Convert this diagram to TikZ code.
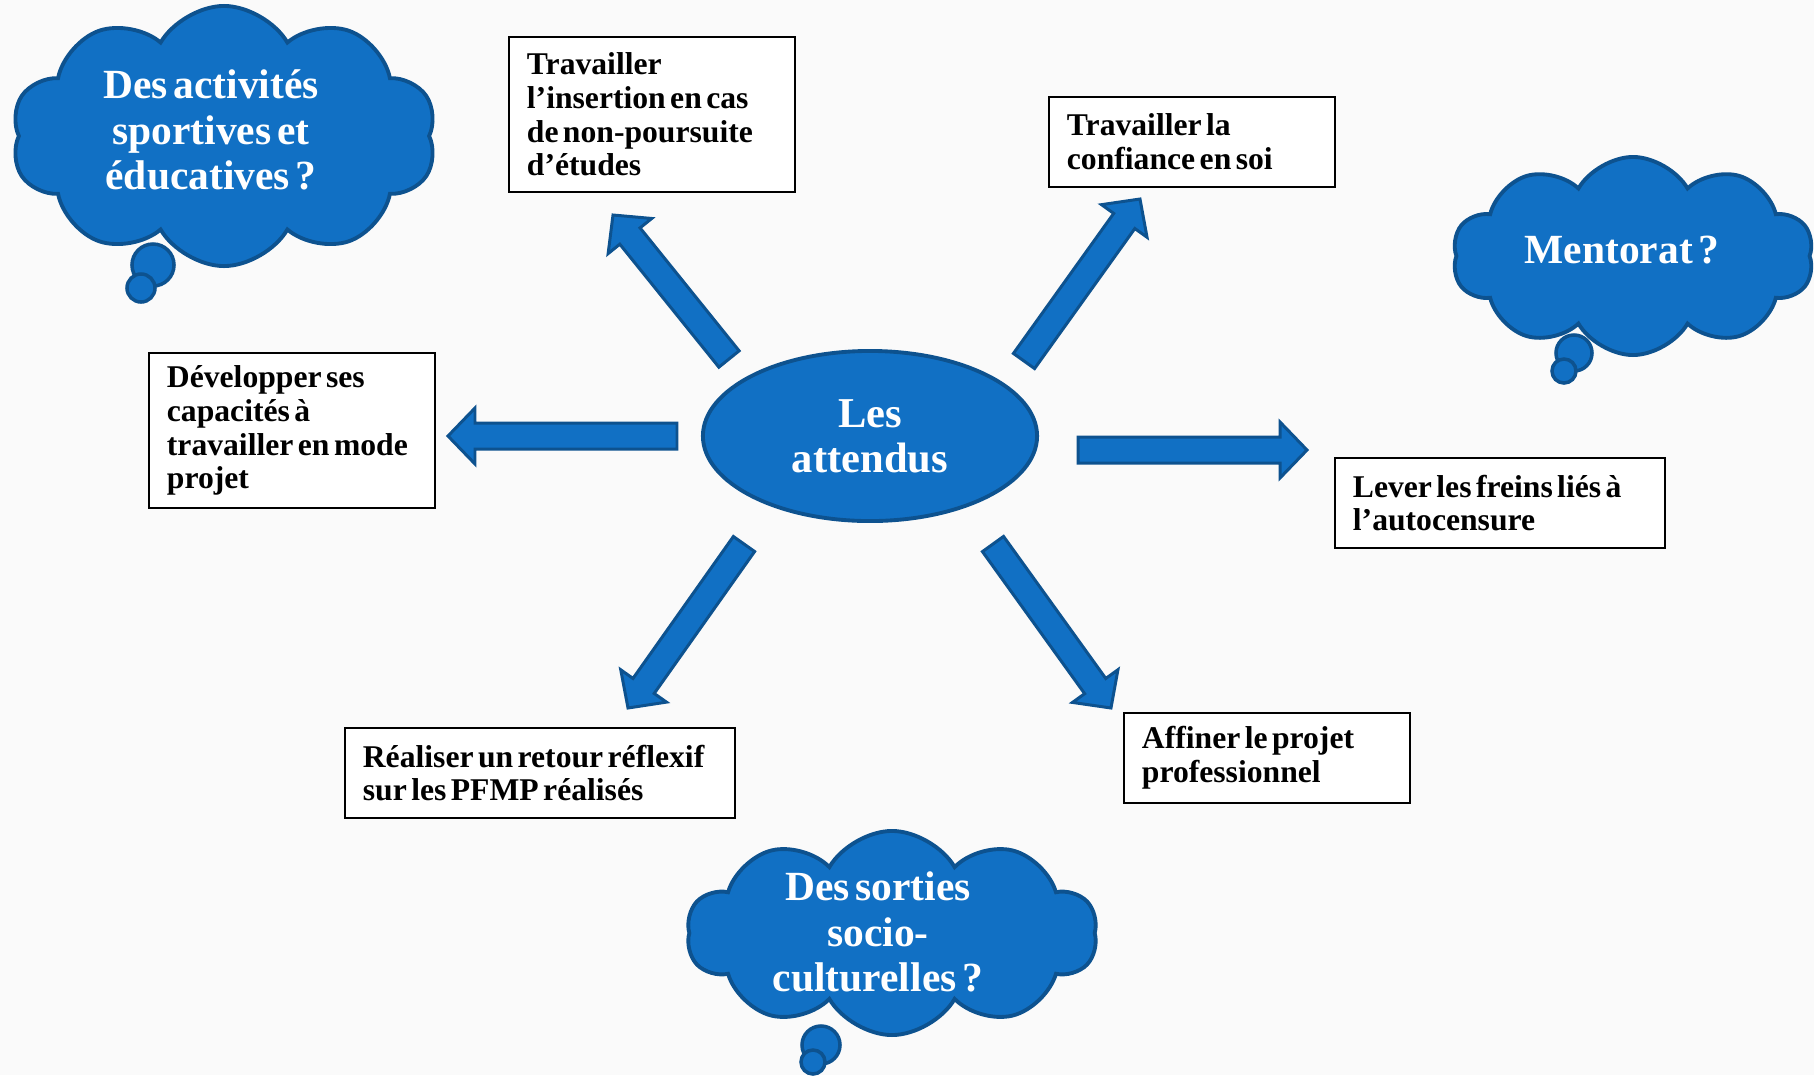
\documentclass[tikz,border=0pt]{standalone}
\usepackage{fontspec}
\setmainfont{Liberation Serif}
\newfontfamily\boxfont{Liberation Serif}
\newfontfamily\cloudfont{Liberation Serif}
\newcommand\boxtextfont{\boxfont\fontsize{9pt}{9.6pt}\selectfont\bfseries}
\newcommand\cloudtextfont{\cloudfont\fontsize{11.8pt}{12.9pt}\selectfont\bfseries}
\newcommand\centretextfont{\cloudfont\fontsize{12.1pt}{12.8pt}\selectfont\bfseries}
\newcommand\narrowspaces{\spaceskip 0.14em plus 0.04em minus 0.02em\relax\xspaceskip\spaceskip}
\usetikzlibrary{shapes.symbols,shapes.geometric}
\definecolor{cfill}{HTML}{1170C4}
\definecolor{cdraw}{HTML}{0D528F}
\definecolor{bgcol}{HTML}{FAFAFA}
\tikzset{
  box/.style={draw=black, line width=0.75pt, fill=white, rectangle, inner xsep=0.18cm, inner ysep=0pt,
    align=left, font=\boxtextfont, text=black, anchor=center, execute at begin node=\narrowspaces},
  bubble/.style={cloud, cloud puffs=10, cloud puff arc=120, draw=cdraw, fill=cfill, line width=1.1pt,
    inner sep=0pt},
  bubbletext/.style={inner sep=0pt, text=white, align=center, font=\cloudtextfont,
    execute at begin node=\narrowspaces},
  tailbig/.style={circle, draw=cdraw, fill=cfill, line width=1pt, inner sep=0pt},
  centre/.style={ellipse, draw=cdraw, fill=cfill, line width=1.1pt, inner sep=0pt, text=white,
    align=center, font=\centretextfont},
  barrow/.style={draw=cdraw, fill=cfill, line width=0.85pt, line join=miter},
}
\newcommand\blockarrow[5]{%
  \coordinate (#1s) at (#2,#3);
  \coordinate (#1e) at (#4,#5);
  \pgfmathsetmacro\baang{atan2(-(#5-#3),#4-#2)}%
  \pgfmathsetmacro\balen{veclen(#4-#2,#5-#3)}%
  \begin{scope}[shift={(#1s)},rotate=\baang]
    \draw[barrow] (0,-13) -- (\balen-27,-13) -- (\balen-27,-28) -- (\balen,0)
      -- (\balen-27,28) -- (\balen-27,13) -- (0,13) -- cycle;
  \end{scope}}
\begin{document}
\begin{tikzpicture}[x=0.01cm,y=-0.01cm]
  \fill[bgcol] (0,0) rectangle (1814,1075);
  \useasboundingbox (0,0) rectangle (1814,1075);

  % thought clouds
  \node[tailbig, minimum size=0.42cm] (t1a) at (153,265) {};
  \node[tailbig, minimum size=0.28cm] (t1b) at (141,288) {};
  \node[bubble, aspect=1.63, minimum width=4.25cm, minimum height=2.6cm] (c1) at (224,136) {};
  \node[bubbletext] (c1t) at (211,130) {Des activités\\sportives et\\éducatives ?};

  \node[tailbig, minimum size=0.36cm] (t2a) at (1574,353) {};
  \node[tailbig, minimum size=0.24cm] (t2b) at (1564,371) {};
  \node[bubble, aspect=1.82, minimum width=3.61cm, minimum height=1.98cm] (c2) at (1633,256) {};
  \node[bubbletext] (c2t) at (1622,250) {Mentorat ?};

  \node[tailbig, minimum size=0.38cm] (t3a) at (821,1045) {};
  \node[tailbig, minimum size=0.24cm] (t3b) at (813,1062) {};
  \node[bubble, aspect=2.0, minimum width=4.1cm, minimum height=2.04cm] (c3) at (892,933) {};
  \node[bubbletext] (c3t) at (878,932) {Des sorties\\socio-\\culturelles ?};

  % centre
  \node[centre, minimum width=3.34cm, minimum height=1.70cm] (m) at (870,436) {Les\\attendus};

  % boxes
  \node[box, minimum width=2.86cm, minimum height=1.55cm, text width=2.50cm] (b1) at (652,114.5)
    {Travailler\\l’insertion en cas\\de non-poursuite\\d’études};
  \node[box, minimum width=2.86cm, minimum height=0.90cm, text width=2.50cm] (b2) at (1192,142)
    {Travailler la\\confiance en soi};
  \node[box, minimum width=2.86cm, minimum height=1.55cm, text width=2.50cm] (b3) at (292,430.5)
    {Développer ses\\capacités à\\travailler en mode\\projet};
  \node[box, minimum width=3.30cm, minimum height=0.90cm, text width=2.94cm] (b4) at (1500,503)
    {Lever les freins liés à\\l’autocensure};
  \node[box, minimum width=3.90cm, minimum height=0.90cm, text width=3.54cm] (b5) at (540,773)
    {Réaliser un retour réflexif\\sur les PFMP réalisés};
  \node[box, minimum width=2.86cm, minimum height=0.90cm, text width=2.50cm] (b6) at (1267,758)
    {Affiner le projet\\professionnel};

  % block arrows
  \blockarrow{aw}{677}{436}{448}{436}
  \blockarrow{ae}{1078}{450}{1307}{450}
  \blockarrow{anw}{729}{359}{613}{215}
  \blockarrow{ane}{1024}{361}{1140}{199}
  \blockarrow{asw}{744}{544}{628}{708}
  \blockarrow{ase}{993}{544}{1111}{708}
\end{tikzpicture}
\end{document}
